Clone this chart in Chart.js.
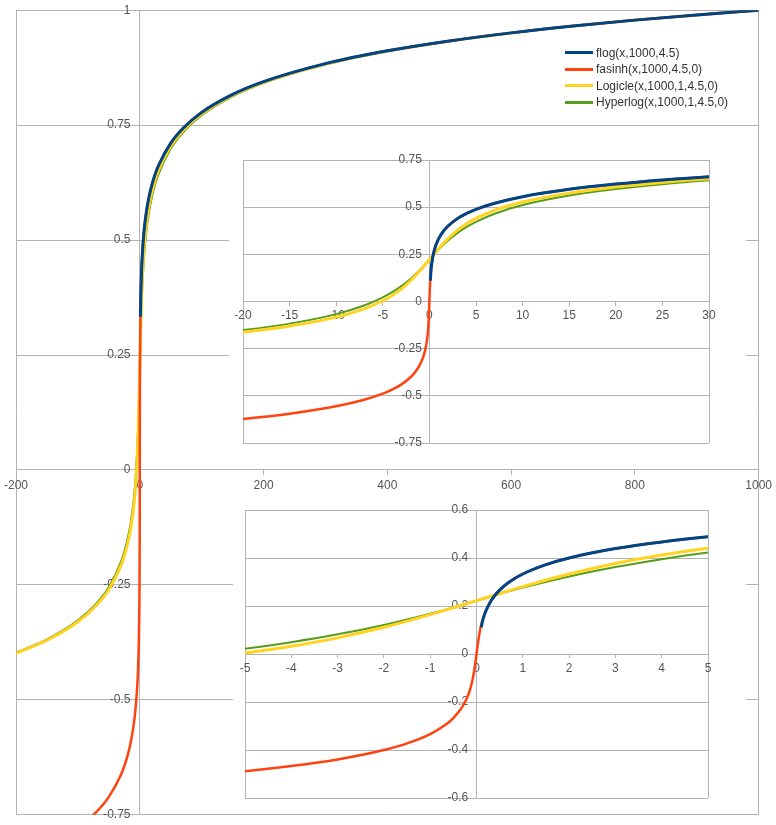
<!DOCTYPE html>
<html>
<head>
<meta charset="utf-8">
<script src="https://cdn.jsdelivr.net/npm/chart.js@4.4.1/dist/chart.umd.min.js"></script>
<style>
  html, body { margin: 0; padding: 0; background: #fff; }
  #wrap { position: relative; width: 776px; height: 825px; overflow: hidden; }
  canvas { position: absolute; }
  #main { left: 0; top: 0; }
  #zoom30 { left: 229px; top: 145px; background: #fff; }
  #zoom5 { left: 233px; top: 497px; background: #fff; }
  #legend { position: absolute; left: 565px; top: 44.5px; font: 12px "Liberation Sans", Arial, sans-serif; color: #333; }
  #legend .row { height: 16.5px; display: flex; align-items: center; white-space: nowrap; }
  #legend .sw { width: 28px; height: 3px; margin-right: 3px; }
</style>
</head>
<body>
<div id="wrap">
  <canvas id="main" width="776" height="825"></canvas>
  <canvas id="zoom30" width="517" height="310"></canvas>
  <canvas id="zoom5" width="513" height="315"></canvas>
  <div id="legend"></div>
</div>
<script>
const seriesNames = ["flog(x,1000,4.5)", "fasinh(x,1000,4.5,0)", "Logicle(x,1000,1,4.5,0)", "Hyperlog(x,1000,1,4.5,0)"];
const seriesColors = ["#004586", "#ff420e", "#ffd320", "#579d1c"];
const seriesWidths = [3, 2.5, 3, 2];

// flog is only defined for x > 0
const flogX = [0.1, 0.15, 0.2, 0.3, 0.4, 0.5, 0.7, 1, 1.5, 2, 3, 4, 5, 7, 10, 15, 20, 25, 30, 50, 70, 100, 150, 200, 300, 400, 500, 600, 700, 800, 900, 1000];
const flogY = [0.1111, 0.1502, 0.1780, 0.2171, 0.2449, 0.2664, 0.2989, 0.3333, 0.3724, 0.4002, 0.4393, 0.4671, 0.4886, 0.5211, 0.5556, 0.5947, 0.6224, 0.6440, 0.6616, 0.7109, 0.7433, 0.7778, 0.8169, 0.8447, 0.8838, 0.9116, 0.9331, 0.9507, 0.9656, 0.9784, 0.9898, 1.0];

const fasinhX = [-200, -150, -100, -70, -50, -30, -25, -20, -15, -10, -7, -5, -4, -3, -2, -1.5, -1, -0.7, -0.5, -0.3, -0.2, -0.15, -0.1, -0.07, -0.05, -0.03, -0.02, -0.01, 0,
  0.01, 0.02, 0.03, 0.05, 0.07, 0.1, 0.15, 0.2, 0.3, 0.5, 0.7, 1, 1.5, 2, 3, 4, 5, 7, 10, 15, 20, 25, 30, 50, 70, 100, 150, 200, 300, 400, 500, 600, 700, 800, 900, 1000];
const fasinhY = [-0.8447, -0.8169, -0.7778, -0.7434, -0.7109, -0.6616, -0.6440, -0.6225, -0.5947, -0.5556, -0.5211, -0.4887, -0.4671, -0.4394, -0.4002, -0.3725, -0.3334, -0.2991, -0.2668, -0.2182, -0.1803, -0.1543, -0.1196, -0.0922, -0.0700, -0.0442, -0.0300, -0.0152, 0,
  0.0152, 0.0300, 0.0442, 0.0700, 0.0922, 0.1196, 0.1543, 0.1803, 0.2182, 0.2668, 0.2991, 0.3334, 0.3725, 0.4002, 0.4394, 0.4671, 0.4887, 0.5211, 0.5556, 0.5947, 0.6225, 0.6440, 0.6616, 0.7109, 0.7434, 0.7778, 0.8169, 0.8447, 0.8838, 0.9116, 0.9331, 0.9507, 0.9656, 0.9785, 0.9898, 1.0];

const biexX = [-200, -150, -100, -70, -50, -30, -25, -20, -15, -10, -7, -5, -4, -3, -2, -1, -0.5, 0, 0.5, 1, 2, 3, 4, 5, 7, 10, 15, 20, 25, 30, 50, 70, 100, 150, 200, 300, 400, 500, 600, 700, 800, 900, 1000];
const logicleY = [-0.3988, -0.3704, -0.3301, -0.2942, -0.2599, -0.2065, -0.1869, -0.1627, -0.1301, -0.0827, -0.0388, 0.0039, 0.0322, 0.0673, 0.1112, 0.1639, 0.1927, 0.2222,
  0.2517, 0.2805, 0.3332, 0.3771, 0.4122, 0.4405, 0.4832, 0.5271, 0.5745, 0.6071, 0.6313, 0.6509, 0.7043, 0.7386, 0.7745, 0.8148, 0.8432, 0.8829, 0.9110, 0.9327, 0.9504, 0.9654, 0.9784, 0.9898, 1.0];
const hyperlogY = [-0.3972, -0.3683, -0.3270, -0.2900, -0.2543, -0.1982, -0.1776, -0.1516, -0.1172, -0.0668, -0.0210, 0.0219, 0.0492, 0.0819, 0.1212, 0.1679, 0.1942, 0.2222,
  0.2502, 0.2765, 0.3232, 0.3625, 0.3952, 0.4225, 0.4654, 0.5112, 0.5616, 0.5960, 0.6220, 0.6426, 0.6987, 0.7344, 0.7714, 0.8127, 0.8416, 0.8819, 0.9103, 0.9323, 0.9501, 0.9652, 0.9782, 0.9897, 1.0];

// [min, max, step] per panel
const mainXRange = [-200, 1000, 200], mainYRange = [-0.75, 1, 0.25];
const midXRange = [-20, 30, 5], midYRange = [-0.75, 0.75, 0.25];
const lowXRange = [-5, 5, 1], lowYRange = [-0.6, 0.6, 0.2];

const GRID = "#b3b3b3";
const TXT = "#555555";
Chart.defaults.font.family = '"Liberation Sans", Arial, sans-serif';
Chart.defaults.font.size = 12;

const pts = (xs, ys) => xs.map((x, i) => ({ x, y: ys[i] }));
const plain = (v) => String(Math.round(v * 100) / 100);

function datasets(flogFrom) {
  const series = [
    pts(flogX, flogY).filter((p) => p.x >= flogFrom),
    pts(fasinhX, fasinhY),
    pts(biexX, logicleY),
    pts(biexX, hyperlogY)
  ];
  return series.map((data, i) => ({
    label: seriesNames[i],
    data,
    showLine: true,
    borderColor: seriesColors[i],
    backgroundColor: seriesColors[i],
    borderWidth: seriesWidths[i],
    pointRadius: 0,
    cubicInterpolationMode: "monotone"
  }));
}

function scales(xr, yr, labelX, tickLen, pad) {
  return {
    x: {
      type: "linear", min: xr[0], max: xr[1], position: { y: 0 },
      border: { display: false },
      grid: {
        color: (c) => (c.tick && [xr[0], 0, xr[1]].includes(c.tick.value) ? GRID : "rgba(0,0,0,0)"),
        tickColor: GRID, tickLength: tickLen
      },
      ticks: { stepSize: xr[2], color: TXT, padding: pad, maxRotation: 0, autoSkip: false, callback: plain }
    },
    y: {
      type: "linear", min: yr[0], max: yr[1], position: { x: labelX },
      border: { display: false },
      grid: { color: GRID, drawTicks: false },
      ticks: { stepSize: yr[2], color: TXT, autoSkip: false, callback: plain }
    }
  };
}

function panel(id, padding, xr, yr, labelX, tickLen, pad, flogFrom) {
  return new Chart(document.getElementById(id), {
    type: "scatter",
    data: { datasets: datasets(flogFrom) },
    options: {
      responsive: false,
      animation: false,
      layout: { padding },
      scales: scales(xr, yr, labelX, tickLen, pad),
      plugins: { legend: { display: false }, tooltip: { enabled: false } }
    }
  });
}

panel("main", { left: 15, top: 9, right: 16, bottom: 8 }, mainXRange, mainYRange, -15, 5, 4, 1);
panel("zoom30", { left: 14, top: 15, right: 37, bottom: 12 }, midXRange, midYRange, -0.8, 4, 3, 0);
panel("zoom5", { left: 12, top: 13, right: 38, bottom: 14 }, lowXRange, lowYRange, -0.18, 4, 3, 0);

document.getElementById("legend").innerHTML = seriesNames
  .map((n, i) => `<div class="row"><span class="sw" style="background:${seriesColors[i]}"></span>${n}</div>`)
  .join("");
</script>
</body>
</html>
